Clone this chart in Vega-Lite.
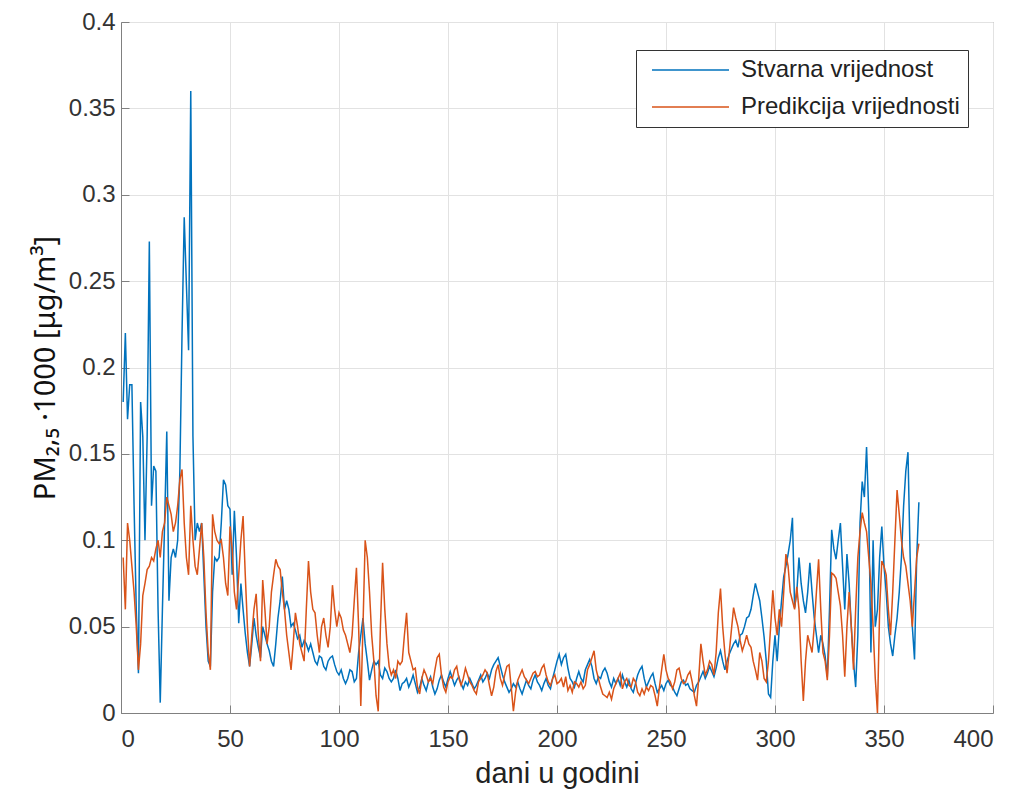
{
  "$schema": "https://vega.github.io/schema/vega-lite/v6.json",
  "width": 872,
  "height": 691,
  "autosize": {"type": "none"},
  "padding": {"left": 121, "top": 22, "right": 28, "bottom": 83},
  "background": "white",
  "config": {
    "view": {"stroke": "#808080", "strokeWidth": 1},
    "axis": {
      "domainColor": "#808080",
      "tickColor": "#808080",
      "gridColor": "#e2e2e2",
      "gridWidth": 1,
      "labelColor": "#333333",
      "titleColor": "#222222",
      "labelFont": "Liberation Sans",
      "titleFont": "Liberation Sans",
      "labelFontSize": 24,
      "titleFontSize": 29,
      "titleFontWeight": "normal",
      "tickSize": -8
    }
  },
  "data": {"values": [
{"d":1,"a":0.18,"p":0.09},{"d":2,"a":0.22,"p":0.06},{"d":3,"a":0.17,"p":0.11},{"d":4,"a":0.19,"p":0.1},{"d":5,"a":0.19,"p":0.085},{"d":6,"a":0.12,"p":0.07},{"d":7,"a":0.06,"p":0.05},{"d":8,"a":0.023,"p":0.025},{"d":9,"a":0.18,"p":0.04},{"d":10,"a":0.16,"p":0.068},
{"d":11,"a":0.1,"p":0.075},{"d":12,"a":0.16,"p":0.083},{"d":13,"a":0.273,"p":0.085},{"d":14,"a":0.12,"p":0.09},{"d":15,"a":0.143,"p":0.088},{"d":16,"a":0.14,"p":0.095},{"d":17,"a":0.06,"p":0.1},{"d":18,"a":0.006,"p":0.09},{"d":19,"a":0.06,"p":0.105},{"d":20,"a":0.11,"p":0.11},
{"d":21,"a":0.163,"p":0.125},{"d":22,"a":0.065,"p":0.12},{"d":23,"a":0.09,"p":0.115},{"d":24,"a":0.095,"p":0.105},{"d":25,"a":0.09,"p":0.11},{"d":26,"a":0.1,"p":0.12},{"d":27,"a":0.14,"p":0.135},{"d":28,"a":0.22,"p":0.141},{"d":29,"a":0.287,"p":0.11},{"d":30,"a":0.248,"p":0.09},
{"d":31,"a":0.21,"p":0.08},{"d":32,"a":0.36,"p":0.12},{"d":33,"a":0.16,"p":0.1},{"d":34,"a":0.1,"p":0.085},{"d":35,"a":0.11,"p":0.08},{"d":36,"a":0.105,"p":0.095},{"d":37,"a":0.11,"p":0.11},{"d":38,"a":0.08,"p":0.09},{"d":39,"a":0.05,"p":0.058},{"d":40,"a":0.03,"p":0.035},
{"d":41,"a":0.027,"p":0.025},{"d":42,"a":0.07,"p":0.115},{"d":43,"a":0.09,"p":0.105},{"d":44,"a":0.088,"p":0.1},{"d":45,"a":0.09,"p":0.098},{"d":46,"a":0.11,"p":0.1},{"d":47,"a":0.135,"p":0.09},{"d":48,"a":0.132,"p":0.075},{"d":49,"a":0.12,"p":0.068},{"d":50,"a":0.118,"p":0.108},
{"d":51,"a":0.08,"p":0.095},{"d":52,"a":0.117,"p":0.07},{"d":53,"a":0.09,"p":0.06},{"d":54,"a":0.052,"p":0.08},{"d":55,"a":0.075,"p":0.1},{"d":56,"a":0.06,"p":0.114},{"d":57,"a":0.046,"p":0.08},{"d":58,"a":0.035,"p":0.05},{"d":59,"a":0.027,"p":0.027},{"d":60,"a":0.04,"p":0.045},
{"d":61,"a":0.055,"p":0.06},{"d":62,"a":0.045,"p":0.069},{"d":63,"a":0.038,"p":0.045},{"d":64,"a":0.032,"p":0.03},{"d":65,"a":0.05,"p":0.077},{"d":66,"a":0.045,"p":0.06},{"d":67,"a":0.04,"p":0.04},{"d":68,"a":0.036,"p":0.05},{"d":69,"a":0.03,"p":0.07},{"d":70,"a":0.027,"p":0.08},
{"d":71,"a":0.04,"p":0.089},{"d":72,"a":0.055,"p":0.085},{"d":73,"a":0.065,"p":0.083},{"d":74,"a":0.079,"p":0.07},{"d":75,"a":0.06,"p":0.06},{"d":76,"a":0.065,"p":0.045},{"d":77,"a":0.06,"p":0.035},{"d":78,"a":0.05,"p":0.025},{"d":79,"a":0.052,"p":0.04},{"d":80,"a":0.048,"p":0.058},
{"d":81,"a":0.043,"p":0.05},{"d":82,"a":0.045,"p":0.04},{"d":83,"a":0.038,"p":0.035},{"d":84,"a":0.042,"p":0.03},{"d":85,"a":0.04,"p":0.06},{"d":86,"a":0.036,"p":0.088},{"d":87,"a":0.04,"p":0.07},{"d":88,"a":0.035,"p":0.06},{"d":89,"a":0.03,"p":0.058},{"d":90,"a":0.028,"p":0.045},
{"d":91,"a":0.033,"p":0.035},{"d":92,"a":0.032,"p":0.05},{"d":93,"a":0.027,"p":0.055},{"d":94,"a":0.025,"p":0.045},{"d":95,"a":0.03,"p":0.038},{"d":96,"a":0.032,"p":0.05},{"d":97,"a":0.033,"p":0.074},{"d":98,"a":0.028,"p":0.06},{"d":99,"a":0.024,"p":0.05},{"d":100,"a":0.022,"p":0.058},
{"d":101,"a":0.025,"p":0.055},{"d":102,"a":0.02,"p":0.048},{"d":103,"a":0.017,"p":0.045},{"d":104,"a":0.02,"p":0.04},{"d":105,"a":0.025,"p":0.035},{"d":106,"a":0.024,"p":0.045},{"d":107,"a":0.018,"p":0.065},{"d":108,"a":0.02,"p":0.084},{"d":109,"a":0.035,"p":0.05},{"d":110,"a":0.045,"p":0.004},
{"d":111,"a":0.055,"p":0.05},{"d":112,"a":0.04,"p":0.1},{"d":113,"a":0.03,"p":0.09},{"d":114,"a":0.019,"p":0.07},{"d":115,"a":0.025,"p":0.045},{"d":116,"a":0.03,"p":0.03},{"d":117,"a":0.028,"p":0.01},{"d":118,"a":0.03,"p":0.001},{"d":119,"a":0.022,"p":0.05},{"d":120,"a":0.02,"p":0.087},
{"d":121,"a":0.026,"p":0.06},{"d":122,"a":0.024,"p":0.04},{"d":123,"a":0.02,"p":0.027},{"d":124,"a":0.018,"p":0.022},{"d":125,"a":0.02,"p":0.025},{"d":126,"a":0.025,"p":0.02},{"d":127,"a":0.02,"p":0.03},{"d":128,"a":0.013,"p":0.028},{"d":129,"a":0.017,"p":0.03},{"d":130,"a":0.018,"p":0.045},
{"d":131,"a":0.02,"p":0.058},{"d":132,"a":0.015,"p":0.035},{"d":133,"a":0.018,"p":0.03},{"d":134,"a":0.022,"p":0.025},{"d":135,"a":0.017,"p":0.026},{"d":136,"a":0.012,"p":0.015},{"d":137,"a":0.015,"p":0.011},{"d":138,"a":0.02,"p":0.02},{"d":139,"a":0.016,"p":0.025},{"d":140,"a":0.013,"p":0.022},
{"d":141,"a":0.018,"p":0.018},{"d":142,"a":0.021,"p":0.02},{"d":143,"a":0.015,"p":0.017},{"d":144,"a":0.011,"p":0.025},{"d":145,"a":0.014,"p":0.032},{"d":146,"a":0.019,"p":0.034},{"d":147,"a":0.022,"p":0.022},{"d":148,"a":0.018,"p":0.015},{"d":149,"a":0.015,"p":0.012},{"d":150,"a":0.02,"p":0.018},
{"d":151,"a":0.024,"p":0.021},{"d":152,"a":0.02,"p":0.02},{"d":153,"a":0.016,"p":0.025},{"d":154,"a":0.019,"p":0.027},{"d":155,"a":0.021,"p":0.02},{"d":156,"a":0.017,"p":0.016},{"d":157,"a":0.014,"p":0.02},{"d":158,"a":0.018,"p":0.026},{"d":159,"a":0.016,"p":0.022},{"d":160,"a":0.02,"p":0.018},
{"d":161,"a":0.017,"p":0.016},{"d":162,"a":0.014,"p":0.013},{"d":163,"a":0.016,"p":0.011},{"d":164,"a":0.019,"p":0.018},{"d":165,"a":0.022,"p":0.02},{"d":166,"a":0.018,"p":0.022},{"d":167,"a":0.02,"p":0.025},{"d":168,"a":0.023,"p":0.023},{"d":169,"a":0.02,"p":0.016},{"d":170,"a":0.025,"p":0.01},
{"d":171,"a":0.028,"p":0.015},{"d":172,"a":0.03,"p":0.024},{"d":173,"a":0.032,"p":0.028},{"d":174,"a":0.027,"p":0.02},{"d":175,"a":0.022,"p":0.016},{"d":176,"a":0.018,"p":0.022},{"d":177,"a":0.015,"p":0.027},{"d":178,"a":0.012,"p":0.028},{"d":179,"a":0.014,"p":0.015},{"d":180,"a":0.017,"p":0.001},
{"d":181,"a":0.015,"p":0.012},{"d":182,"a":0.018,"p":0.019},{"d":183,"a":0.014,"p":0.022},{"d":184,"a":0.011,"p":0.025},{"d":185,"a":0.015,"p":0.021},{"d":186,"a":0.019,"p":0.019},{"d":187,"a":0.016,"p":0.017},{"d":188,"a":0.014,"p":0.02},{"d":189,"a":0.019,"p":0.023},{"d":190,"a":0.022,"p":0.024},
{"d":191,"a":0.018,"p":0.021},{"d":192,"a":0.016,"p":0.022},{"d":193,"a":0.013,"p":0.026},{"d":194,"a":0.017,"p":0.028},{"d":195,"a":0.02,"p":0.022},{"d":196,"a":0.016,"p":0.018},{"d":197,"a":0.014,"p":0.016},{"d":198,"a":0.02,"p":0.02},{"d":199,"a":0.025,"p":0.022},{"d":200,"a":0.03,"p":0.017},
{"d":201,"a":0.034,"p":0.018},{"d":202,"a":0.028,"p":0.02},{"d":203,"a":0.032,"p":0.015},{"d":204,"a":0.034,"p":0.021},{"d":205,"a":0.026,"p":0.013},{"d":206,"a":0.02,"p":0.016},{"d":207,"a":0.018,"p":0.012},{"d":208,"a":0.015,"p":0.018},{"d":209,"a":0.02,"p":0.017},{"d":210,"a":0.024,"p":0.015},
{"d":211,"a":0.02,"p":0.018},{"d":212,"a":0.018,"p":0.014},{"d":213,"a":0.025,"p":0.016},{"d":214,"a":0.028,"p":0.025},{"d":215,"a":0.031,"p":0.028},{"d":216,"a":0.027,"p":0.032},{"d":217,"a":0.02,"p":0.036},{"d":218,"a":0.017,"p":0.025},{"d":219,"a":0.021,"p":0.02},{"d":220,"a":0.02,"p":0.015},
{"d":221,"a":0.024,"p":0.011},{"d":222,"a":0.026,"p":0.01},{"d":223,"a":0.023,"p":0.009},{"d":224,"a":0.018,"p":0.012},{"d":225,"a":0.015,"p":0.008},{"d":226,"a":0.02,"p":0.014},{"d":227,"a":0.017,"p":0.017},{"d":228,"a":0.02,"p":0.02},{"d":229,"a":0.016,"p":0.023},{"d":230,"a":0.022,"p":0.014},
{"d":231,"a":0.018,"p":0.018},{"d":232,"a":0.015,"p":0.02},{"d":233,"a":0.019,"p":0.016},{"d":234,"a":0.014,"p":0.015},{"d":235,"a":0.012,"p":0.02},{"d":236,"a":0.017,"p":0.018},{"d":237,"a":0.022,"p":0.012},{"d":238,"a":0.025,"p":0.01},{"d":239,"a":0.027,"p":0.014},{"d":240,"a":0.02,"p":0.011},
{"d":241,"a":0.015,"p":0.015},{"d":242,"a":0.018,"p":0.013},{"d":243,"a":0.021,"p":0.016},{"d":244,"a":0.023,"p":0.015},{"d":245,"a":0.017,"p":0.01},{"d":246,"a":0.012,"p":0.004},{"d":247,"a":0.014,"p":0.015},{"d":248,"a":0.016,"p":0.025},{"d":249,"a":0.013,"p":0.034},{"d":250,"a":0.017,"p":0.025},
{"d":251,"a":0.019,"p":0.02},{"d":252,"a":0.016,"p":0.018},{"d":253,"a":0.015,"p":0.014},{"d":254,"a":0.012,"p":0.018},{"d":255,"a":0.01,"p":0.025},{"d":256,"a":0.014,"p":0.026},{"d":257,"a":0.018,"p":0.02},{"d":258,"a":0.019,"p":0.017},{"d":259,"a":0.016,"p":0.018},{"d":260,"a":0.017,"p":0.022},
{"d":261,"a":0.014,"p":0.024},{"d":262,"a":0.013,"p":0.018},{"d":263,"a":0.012,"p":0.01},{"d":264,"a":0.016,"p":0.004},{"d":265,"a":0.018,"p":0.02},{"d":266,"a":0.021,"p":0.04},{"d":267,"a":0.024,"p":0.03},{"d":268,"a":0.02,"p":0.022},{"d":269,"a":0.023,"p":0.025},{"d":270,"a":0.027,"p":0.03},
{"d":271,"a":0.024,"p":0.028},{"d":272,"a":0.021,"p":0.022},{"d":273,"a":0.026,"p":0.035},{"d":274,"a":0.032,"p":0.058},{"d":275,"a":0.036,"p":0.072},{"d":276,"a":0.03,"p":0.05},{"d":277,"a":0.025,"p":0.035},{"d":278,"a":0.03,"p":0.023},{"d":279,"a":0.034,"p":0.035},{"d":280,"a":0.037,"p":0.048},
{"d":281,"a":0.04,"p":0.061},{"d":282,"a":0.042,"p":0.055},{"d":283,"a":0.038,"p":0.05},{"d":284,"a":0.045,"p":0.042},{"d":285,"a":0.046,"p":0.036},{"d":286,"a":0.05,"p":0.04},{"d":287,"a":0.055,"p":0.045},{"d":288,"a":0.056,"p":0.04},{"d":289,"a":0.06,"p":0.038},{"d":290,"a":0.068,"p":0.03},
{"d":291,"a":0.075,"p":0.025},{"d":292,"a":0.07,"p":0.019},{"d":293,"a":0.065,"p":0.035},{"d":294,"a":0.055,"p":0.03},{"d":295,"a":0.044,"p":0.02},{"d":296,"a":0.03,"p":0.018},{"d":297,"a":0.011,"p":0.03},{"d":298,"a":0.009,"p":0.05},{"d":299,"a":0.03,"p":0.071},{"d":300,"a":0.045,"p":0.055},
{"d":301,"a":0.03,"p":0.045},{"d":302,"a":0.05,"p":0.06},{"d":303,"a":0.065,"p":0.05},{"d":304,"a":0.079,"p":0.07},{"d":305,"a":0.085,"p":0.092},{"d":306,"a":0.092,"p":0.085},{"d":307,"a":0.1,"p":0.07},{"d":308,"a":0.113,"p":0.065},{"d":309,"a":0.061,"p":0.06},{"d":310,"a":0.07,"p":0.073},
{"d":311,"a":0.09,"p":0.06},{"d":312,"a":0.075,"p":0.03},{"d":313,"a":0.065,"p":0.007},{"d":314,"a":0.058,"p":0.03},{"d":315,"a":0.07,"p":0.045},{"d":316,"a":0.087,"p":0.04},{"d":317,"a":0.07,"p":0.035},{"d":318,"a":0.055,"p":0.05},{"d":319,"a":0.045,"p":0.07},{"d":320,"a":0.035,"p":0.089},
{"d":321,"a":0.045,"p":0.06},{"d":322,"a":0.04,"p":0.035},{"d":323,"a":0.033,"p":0.03},{"d":324,"a":0.021,"p":0.019},{"d":325,"a":0.06,"p":0.045},{"d":326,"a":0.106,"p":0.081},{"d":327,"a":0.095,"p":0.08},{"d":328,"a":0.089,"p":0.078},{"d":329,"a":0.1,"p":0.07},{"d":330,"a":0.11,"p":0.062},
{"d":331,"a":0.085,"p":0.045},{"d":332,"a":0.06,"p":0.021},{"d":333,"a":0.092,"p":0.05},{"d":334,"a":0.075,"p":0.07},{"d":335,"a":0.05,"p":0.05},{"d":336,"a":0.03,"p":0.025},{"d":337,"a":0.015,"p":0.06},{"d":338,"a":0.045,"p":0.09},{"d":339,"a":0.11,"p":0.105},{"d":340,"a":0.134,"p":0.116},
{"d":341,"a":0.125,"p":0.11},{"d":342,"a":0.154,"p":0.105},{"d":343,"a":0.116,"p":0.09},{"d":344,"a":0.035,"p":0.075},{"d":345,"a":0.1,"p":0.05},{"d":346,"a":0.05,"p":0.02},{"d":347,"a":0.06,"p":0.0},{"d":348,"a":0.09,"p":0.06},{"d":349,"a":0.108,"p":0.088},{"d":350,"a":0.085,"p":0.085},
{"d":351,"a":0.07,"p":0.08},{"d":352,"a":0.05,"p":0.06},{"d":353,"a":0.04,"p":0.045},{"d":354,"a":0.033,"p":0.07},{"d":355,"a":0.045,"p":0.1},{"d":356,"a":0.055,"p":0.129},{"d":357,"a":0.07,"p":0.115},{"d":358,"a":0.09,"p":0.1},{"d":359,"a":0.12,"p":0.09},{"d":360,"a":0.14,"p":0.085},
{"d":361,"a":0.151,"p":0.075},{"d":362,"a":0.09,"p":0.065},{"d":363,"a":0.05,"p":0.05},{"d":364,"a":0.031,"p":0.07},{"d":365,"a":0.09,"p":0.09},{"d":366,"a":0.122,"p":0.098}
  ]},
  "transform": [{"fold": ["a", "p"], "as": ["serija", "vrijednost"]}],
  "mark": {"type": "line", "strokeWidth": 1.5, "clip": true},
  "encoding": {
    "x": {
      "field": "d", "type": "quantitative",
      "scale": {"domain": [0, 400], "nice": false, "zero": false},
      "axis": {"values": [0, 50, 100, 150, 200, 250, 300, 350, 400], "format": "d", "title": "dani u godini", "labelPadding": 22, "titlePadding": 8, "grid": true}
    },
    "y": {
      "field": "vrijednost", "type": "quantitative",
      "scale": {"domain": [0, 0.4], "nice": false},
      "axis": {"values": [0, 0.05, 0.1, 0.15, 0.2, 0.25, 0.3, 0.35, 0.4], "format": "~g", "title": "PM₂,₅ ·1000 [μg/m³]", "labelPadding": 14, "titlePadding": 8, "grid": true, "titleFont": "Noto Sans", "titleFontSize": 29, "titleColor": "#111111"}
    },
    "color": {
      "field": "serija", "type": "nominal",
      "scale": {"domain": ["a", "p"], "range": ["#0072BD", "#D95319"]},
      "legend": {
        "title": null,
        "orient": "none",
        "legendX": 515,
        "legendY": 28,
        "direction": "vertical",
        "fillColor": "white",
        "strokeColor": "#333333",
        "padding": 8,
        "symbolType": "M-0.4,0H7.3",
        "symbolSize": 400,
        "symbolStrokeWidth": 1.5,
        "labelOffset": 73,
        "labelLimit": 0,
        "labelFont": "Liberation Sans",
        "labelFontSize": 24,
        "labelColor": "#222222",
        "rowPadding": 13,
        "labelExpr": "datum.label == 'a' ? 'Stvarna vrijednost' : 'Predikcija vrijednosti'"
      }
    }
  }
}
